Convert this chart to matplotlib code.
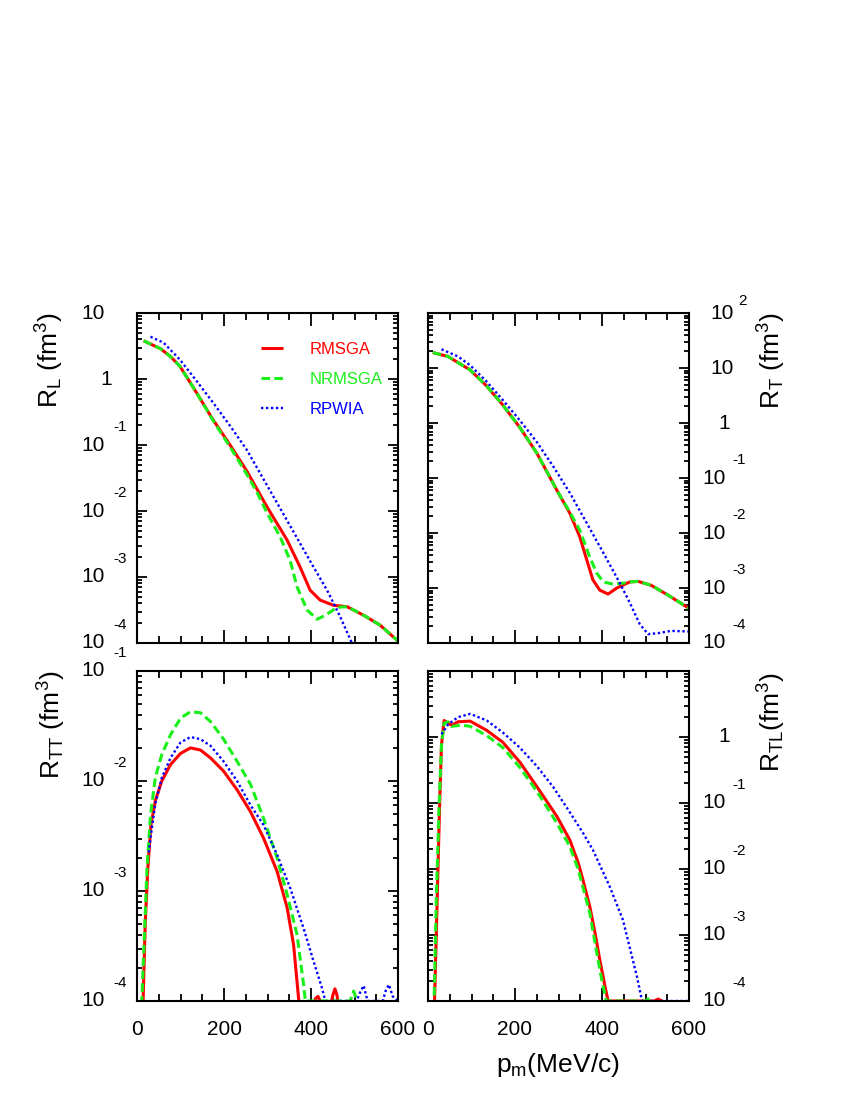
import matplotlib
matplotlib.use('Agg')
import matplotlib.pyplot as plt
import matplotlib.transforms as mtransforms
from matplotlib.ticker import MultipleLocator, LogLocator, NullFormatter

plt.rcParams['font.family'] = ['Liberation Sans', 'DejaVu Sans']
plt.rcParams['mathtext.fontset'] = 'custom'
plt.rcParams['mathtext.rm'] = 'Liberation Sans'
plt.rcParams['mathtext.it'] = 'Liberation Sans:italic'

# ---- data (p_m in MeV/c, responses in fm^3) ----
rl_rmsga_p = [15, 54, 77, 99, 137, 175, 214, 253, 299, 345, 375, 398, 421, 452, 483, 521, 559, 600]
rl_rmsga = [3.80, 2.88, 2.19, 1.55, 0.617, 0.240, 0.100, 0.0398, 0.0115, 3.63e-3, 1.41e-3,
            6.31e-4, 4.47e-4, 3.72e-4, 3.55e-4, 2.63e-4, 1.86e-4, 1.07e-4]
rl_nrmsga_p = [15, 54, 77, 99, 137, 175, 214, 253, 276, 299, 329, 352, 368, 391, 414, 433, 460,
               483, 521, 559, 600]
rl_nrmsga = [3.80, 2.88, 2.19, 1.55, 0.617, 0.234, 0.0933, 0.0355, 0.0191, 9.33e-3, 4.07e-3,
             1.78e-3, 7.08e-4, 3.16e-4, 2.29e-4, 2.63e-4, 3.47e-4, 3.55e-4, 2.63e-4, 1.86e-4, 1.07e-4]
rl_rpwia_p = [31, 61, 99, 137, 175, 214, 253, 291, 329, 368, 406, 437, 467, 494, 510]
rl_rpwia = [4.37, 3.55, 1.95, 0.933, 0.437, 0.195, 0.0832, 0.0302, 0.0110, 3.89e-3, 1.41e-3,
            6.31e-4, 2.51e-4, 1.0e-4, 5.0e-5]

rt_rmsga_p = [11, 46, 97, 134, 172, 211, 250, 296, 326, 349, 365, 379, 395, 414, 434, 464, 483,
              513, 552, 600]
rt_rmsga = [19.1, 16.2, 9.20, 4.79, 2.12, 0.832, 0.285, 0.0603, 0.0229, 8.51e-3, 3.24e-3, 1.41e-3,
            9.12e-4, 7.76e-4, 1.0e-3, 1.29e-3, 1.32e-3, 1.12e-3, 7.41e-4, 4.27e-4]
rt_nrmsga_p = [11, 46, 97, 134, 172, 211, 250, 296, 326, 349, 372, 388, 403, 426, 450, 464, 483,
               513, 552, 600]
rt_nrmsga = [19.1, 16.2, 9.20, 4.79, 2.12, 0.832, 0.285, 0.0603, 0.0240, 0.0112, 3.63e-3, 1.86e-3,
             1.29e-3, 1.17e-3, 1.23e-3, 1.29e-3, 1.32e-3, 1.12e-3, 7.41e-4, 4.27e-4]
rt_rpwia_p = [31, 69, 97, 134, 172, 211, 250, 288, 326, 365, 403, 441, 464, 487, 506, 529, 559, 600]
rt_rpwia = [21.9, 16.2, 11.2, 5.75, 2.62, 1.12, 0.452, 0.162, 0.0537, 0.0151, 4.37e-3, 1.23e-3,
            5.37e-4, 2.19e-4, 1.45e-4, 1.51e-4, 1.66e-4, 1.62e-4]

rtt_rmsga_p = [12, 14, 19, 25, 32, 42, 57, 77, 100, 123, 146, 169, 199, 230, 261, 291, 322, 345,
               360, 372, 383, 405, 410, 416, 424, 445, 450, 455, 460, 464, 480]
rtt_rmsga = [3.16e-5, 1e-4, 5.25e-4, 1.62e-3, 3.98e-3, 6.61e-3, 0.0100, 0.0141, 0.0178, 0.0200,
             0.0191, 0.0162, 0.0123, 0.00832, 0.00525, 0.00302, 0.00151, 7.08e-4, 3.24e-4, 1.0e-4,
             3.16e-5, 7.9e-5, 1.05e-4, 1.1e-4, 9.5e-5, 8.9e-5, 1.12e-4, 1.29e-4, 1.12e-4, 7.9e-5,
             3.16e-5]
rtt_nrmsga_p = [10, 11, 17, 23, 31, 42, 57, 77, 100, 123, 146, 169, 199, 230, 261, 291, 322, 345,
                368, 383, 387, 400, 490, 498, 506, 520]
rtt_nrmsga = [3.16e-5, 1e-4, 3.98e-4, 1.62e-3, 4.9e-3, 0.0107, 0.0174, 0.0263, 0.0372, 0.0427,
              0.0417, 0.0347, 0.024, 0.0151, 0.00933, 0.00457, 0.002, 9.33e-4, 3.98e-4, 1.41e-4,
              1e-4, 1e-4, 1e-4, 1.23e-4, 1e-4, 5e-5]
rtt_rpwia_p = [27, 31, 42, 57, 77, 100, 123, 146, 169, 199, 230, 261, 291, 322, 352, 383, 406, 425,
               433, 505, 513, 521, 530, 565, 572, 579, 588, 600]
rtt_rpwia = [2.24e-3, 3.02e-3, 6.17e-3, 0.0107, 0.0162, 0.0224, 0.0251, 0.024, 0.0209, 0.0151,
             0.0100, 6.03e-3, 3.98e-3, 2.14e-3, 1.07e-3, 4.57e-4, 2.29e-4, 1.32e-4, 1e-4, 1e-4,
             1.2e-4, 1.38e-4, 1e-4, 1e-4, 1.25e-4, 1.41e-4, 1.1e-4, 1e-4]

rtl_rmsga_p = [13, 15, 19, 23, 27, 31, 37, 46, 55, 69, 97, 135, 172, 211, 250, 296, 326, 345, 356,
               372, 384, 395, 406, 414, 520, 529, 538, 545]
rtl_rmsga = [3.16e-5, 1e-4, 1e-3, 0.0105, 0.107, 0.759, 1.78, 1.62, 1.51, 1.70, 1.74, 1.26, 0.832,
             0.417, 0.178, 0.0631, 0.0275, 0.0126, 6.92e-3, 2.69e-3, 1.07e-3, 4.17e-4, 1.78e-4,
             1e-4, 1e-4, 1.07e-4, 1e-4, 3.16e-5]
rtl_nrmsga_p = [12, 14, 19, 25, 31, 37, 46, 54, 77, 97, 135, 172, 211, 250, 296, 326, 345, 356,
                372, 388, 400, 410, 500, 506, 510, 515, 520]
rtl_nrmsga = [3.16e-5, 1e-4, 3.24e-3, 0.0741, 0.759, 1.62, 1.70, 1.45, 1.51, 1.45, 1.05, 0.692,
              0.347, 0.151, 0.0501, 0.0219, 0.0100, 5.37e-3, 2.14e-3, 5.37e-4, 2.0e-4, 1e-4, 1e-4,
              1.07e-4, 1.12e-4, 1e-4, 3.16e-5]
rtl_rpwia_p = [31, 46, 69, 97, 135, 172, 211, 250, 288, 326, 356, 379, 418, 448, 469, 481, 492,
               520, 560, 600]
rtl_rpwia = [1.10, 1.55, 2.0, 2.24, 1.78, 1.17, 0.692, 0.363, 0.174, 0.0724, 0.0355, 0.0195,
             5.37e-3, 1.70e-3, 4.68e-4, 2.24e-4, 1e-4, 1e-4, 1e-4, 1e-4]

labels = ['RMSGA', 'NRMSGA', 'RPWIA']

RED, GREEN, BLUE = '#ff0000', '#19f019', '#0000ff'

fig = plt.figure(figsize=(8.5, 11), dpi=100)
W, H = 850., 1100.


def make_ax(x0, y0, x1, y1):
    # pixel box -> figure fraction
    return fig.add_axes([x0 / W, 1 - y1 / H, (x1 - x0) / W, (y1 - y0) / H])


def draw(ax, red, green, blue):
    ax.plot(red[0], red[1], color=RED, lw=2.2, label=labels[0], solid_capstyle='butt')
    ax.plot(green[0], green[1], color=GREEN, lw=2.2, dashes=(2.8, 1.4), label=labels[1])
    ax.plot(blue[0], blue[1], color=BLUE, lw=1.7, dashes=(1.0, 1.1), label=labels[2])


def style(ax, ylo, yhi):
    ax.set_yscale('log')
    ax.set_xlim(0, 600)
    ax.set_ylim(ylo, yhi)
    ax.xaxis.set_major_locator(MultipleLocator(200))
    ax.xaxis.set_minor_locator(MultipleLocator(50))
    ax.yaxis.set_major_locator(LogLocator(base=10, numticks=20))
    ax.yaxis.set_minor_locator(LogLocator(base=10, subs=range(2, 10), numticks=20))
    ax.yaxis.set_minor_formatter(NullFormatter())
    ax.tick_params(which='both', direction='in', top=True, right=True, width=1.3)
    ax.tick_params(axis='x', which='major', length=9.5, labelsize=15, pad=14)
    ax.tick_params(axis='x', which='minor', length=5)
    ax.tick_params(axis='y', which='major', length=7, labelleft=False, labelright=False)
    ax.tick_params(axis='y', which='minor', length=3.5)
    for s in ax.spines.values():
        s.set_linewidth(1.5)


def decade_labels(ax, exps, side):
    trans = mtransforms.blended_transform_factory(ax.transAxes, ax.transData)
    up = mtransforms.offset_copy(trans, fig=fig, x=0, y=13, units='points')
    up2 = mtransforms.offset_copy(trans, fig=fig, x=0, y=9, units='points')
    for e in exps:
        v = 10.0 ** e
        if side == 'left':
            if e == 0:
                ax.text(-0.097, v, '1', transform=trans, ha='right', va='center', fontsize=15)
            else:
                ax.text(-0.123, v, '10', transform=trans, ha='right', va='center', fontsize=15)
                if e != 1:
                    ax.text(-0.09, v, str(e), transform=up, ha='left', va='center', fontsize=11)
        else:
            if e == 0:
                ax.text(1.112, v, '1', transform=trans, ha='left', va='center', fontsize=15)
            elif e >= 1:
                ax.text(1.08, v, '10', transform=trans, ha='left', va='center', fontsize=15)
                if e != 1:
                    ax.text(1.19, v, str(e), transform=up2, ha='left', va='center', fontsize=11)
            else:
                ax.text(1.05, v, '10', transform=trans, ha='left', va='center', fontsize=15)
                ax.text(1.168, v, str(e), transform=up, ha='left', va='center', fontsize=11)


ax_l = make_ax(137, 313, 398, 643)
ax_t = make_ax(428, 313, 689, 643)
ax_tt = make_ax(137, 671, 398, 1001)
ax_tl = make_ax(428, 671, 689, 1001)

draw(ax_l, (rl_rmsga_p, rl_rmsga), (rl_nrmsga_p, rl_nrmsga), (rl_rpwia_p, rl_rpwia))
draw(ax_t, (rt_rmsga_p, rt_rmsga), (rt_nrmsga_p, rt_nrmsga), (rt_rpwia_p, rt_rpwia))
draw(ax_tt, (rtt_rmsga_p, rtt_rmsga), (rtt_nrmsga_p, rtt_nrmsga), (rtt_rpwia_p, rtt_rpwia))
draw(ax_tl, (rtl_rmsga_p, rtl_rmsga), (rtl_nrmsga_p, rtl_nrmsga), (rtl_rpwia_p, rtl_rpwia))

style(ax_l, 1e-4, 10)
style(ax_t, 1e-4, 100)
style(ax_tt, 1e-4, 1e-1)
style(ax_tl, 1e-4, 10)

for ax in (ax_l, ax_t):
    ax.tick_params(axis='x', labelbottom=False)

decade_labels(ax_l, [1, 0, -1, -2, -3, -4], 'left')
decade_labels(ax_tt, [-1, -2, -3, -4], 'left')
decade_labels(ax_t, [2, 1, 0, -1, -2, -3, -4], 'right')
decade_labels(ax_tl, [0, -1, -2, -3, -4], 'right')

leg = ax_l.legend(loc='upper left', bbox_to_anchor=(0.475, 0.912), frameon=False, fontsize=12,
                  handlelength=1.3, handletextpad=1.6, labelspacing=0.9, borderpad=0,
                  borderaxespad=0, labelcolor='linecolor')

fig.text(50 / W, 1 - 360 / H, r'R$_{\mathrm{L}}$ (fm$^{3}$)', rotation=90, ha='center', va='center', fontsize=19)
fig.text(772 / W, 1 - 360 / H, r'R$_{\mathrm{T}}$ (fm$^{3}$)', rotation=90, ha='center', va='center', fontsize=19)
fig.text(52 / W, 1 - 725 / H, r'R$_{\mathrm{TT}}$ (fm$^{3}$)', rotation=90, ha='center', va='center', fontsize=19)
fig.text(772 / W, 1 - 722 / H, r'R$_{\mathrm{TL}}$(fm$^{3}$)', rotation=90, ha='center', va='center', fontsize=19)
fig.text(558 / W, 1 - 1065 / H, r'p$_{\mathrm{m}}$(MeV/c)', ha='center', va='center', fontsize=19)

fig.savefig('out.png', dpi=100)
